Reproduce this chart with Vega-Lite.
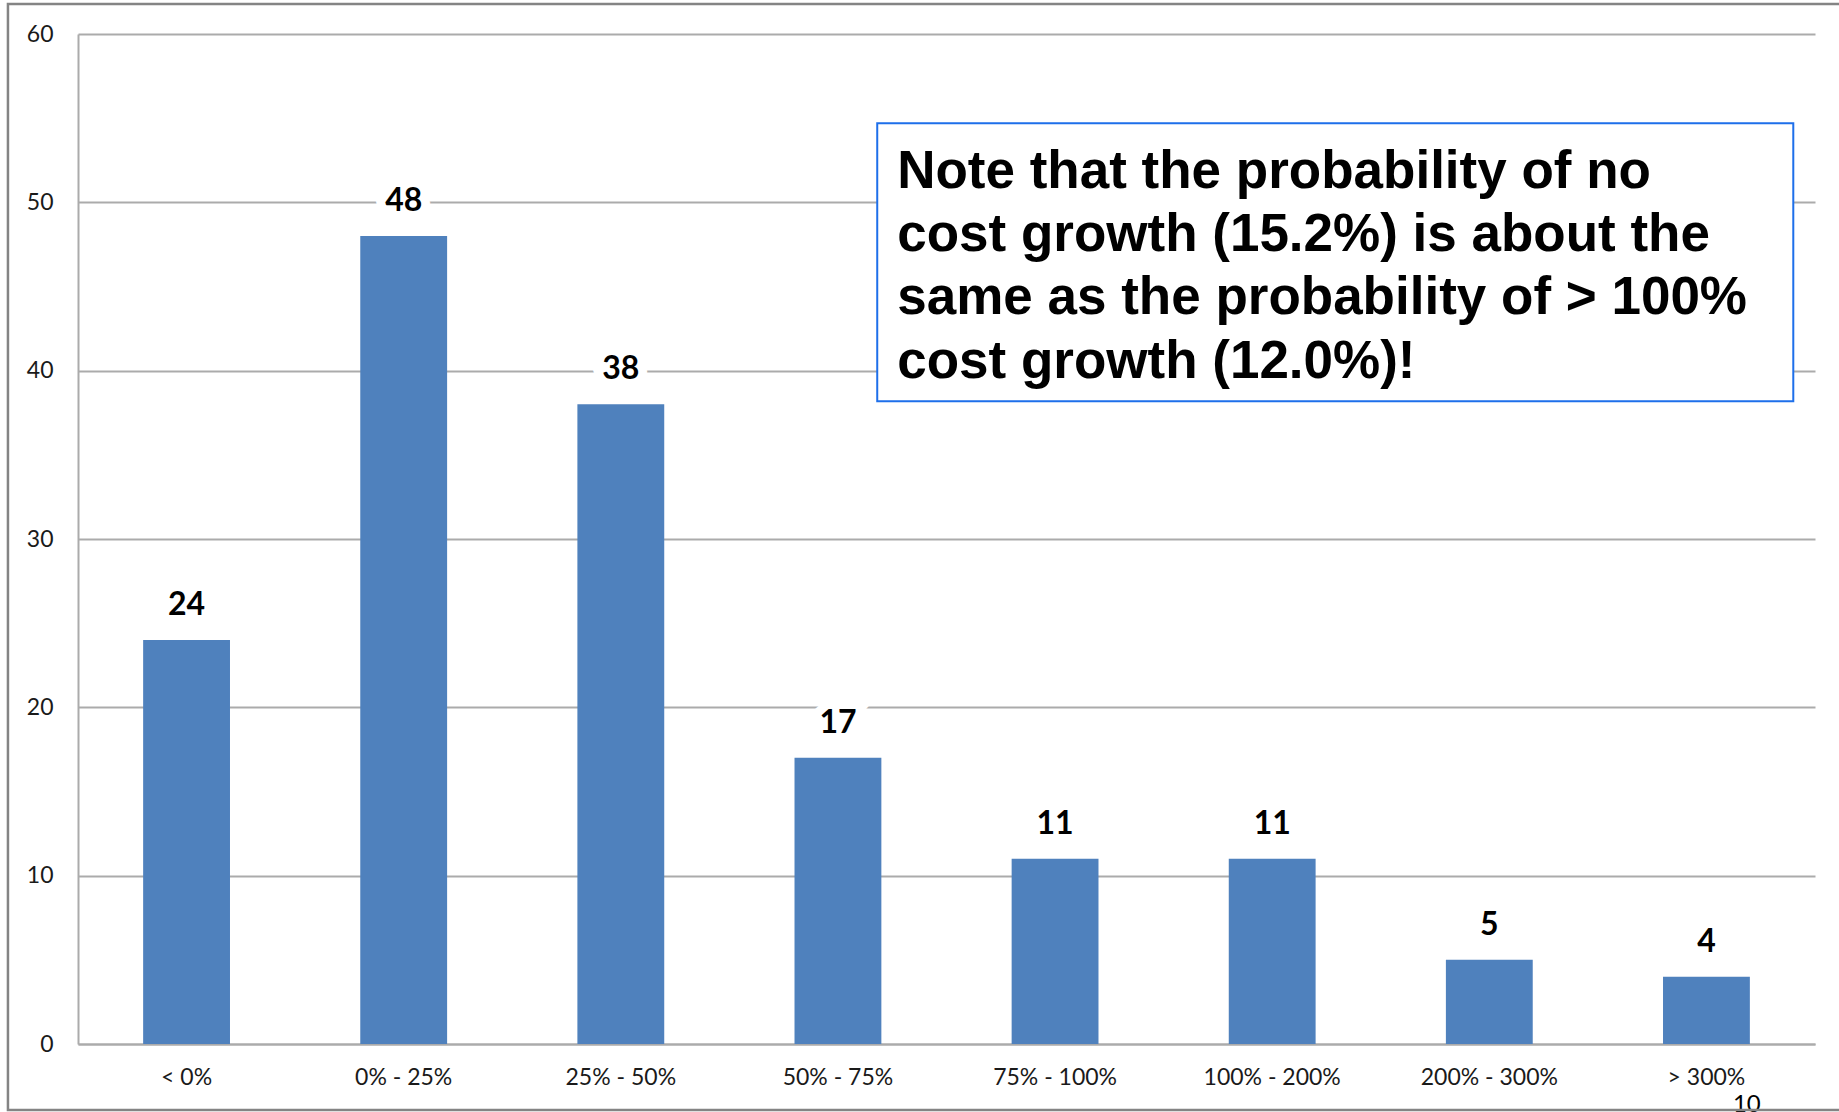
{
  "$schema": "https://vega.github.io/schema/vega-lite/v6.json",
  "width": 1737,
  "height": 1010,
  "autosize": {"type": "none"},
  "padding": {"left": 78, "top": 34, "right": 24, "bottom": 68},
  "background": "white",
  "datasets": {
    "bars": [
      {"range": "< 0%", "count": 24},
      {"range": "0% - 25%", "count": 48},
      {"range": "25% - 50%", "count": 38},
      {"range": "50% - 75%", "count": 17},
      {"range": "75% - 100%", "count": 11},
      {"range": "100% - 200%", "count": 11},
      {"range": "200% - 300%", "count": 5},
      {"range": "> 300%", "count": 4}
    ],
    "box": [{"x1": 3.681, "x2": 7.9, "y1": 38.19, "y2": 54.7}],
    "note": [
      {"line": "Note that the probability of no", "x": 3.773, "y": 50.87},
      {"line": "cost growth (15.2%) is about the", "x": 3.773, "y": 47.11},
      {"line": "same as the probability of > 100%", "x": 3.773, "y": 43.37},
      {"line": "cost growth (12.0%)!", "x": 3.773, "y": 39.59}
    ],
    "page": [{"label": "10", "x": 7.622, "y": -4.04}],
    "frame": [{"x1": -0.3226, "x2": 8.6, "y1": 61.78, "y2": -3.92}]
  },
  "layer": [
    {
      "data": {"name": "bars"},
      "encoding": {
        "x": {"field": "range", "type": "nominal", "sort": null,
              "scale": {"paddingInner": 0.6, "paddingOuter": 0.3}},
        "y": {"field": "count", "type": "quantitative",
              "scale": {"domain": [0, 60], "nice": false},
              "axis": {"values": [0, 10, 20, 30, 40, 50, 60]}}
      },
      "layer": [
        {"mark": {"type": "bar", "color": "#4F81BD"}},
        {"mark": {"type": "text", "font": "Lato", "fontWeight": "bold", "fontSize": 32,
                  "baseline": "alphabetic", "dy": -25, "color": "white",
                  "stroke": "white", "strokeWidth": 18},
         "encoding": {"text": {"field": "count", "type": "quantitative"}}},
        {"mark": {"type": "text", "font": "Lato", "fontWeight": "bold", "fontSize": 32,
                  "baseline": "alphabetic", "dy": -25, "color": "black"},
         "encoding": {"text": {"field": "count", "type": "quantitative"}}}
      ]
    },
    {
      "layer": [
        {
          "data": {"name": "box"},
          "mark": {"type": "rect", "fill": "white", "stroke": "#1E6FEA", "strokeWidth": 2},
          "encoding": {
            "x": {"field": "x1", "type": "quantitative", "scale": {"domain": [0, 8], "nice": false, "zero": false}, "axis": null},
            "x2": {"field": "x2"},
            "y": {"field": "y1", "type": "quantitative", "axis": {"values": [0, 10, 20, 30, 40, 50, 60]}},
            "y2": {"field": "y2"}
          }
        },
        {
          "data": {"name": "note"},
          "mark": {"type": "text", "font": "Liberation Sans", "fontWeight": "bold", "fontSize": 53,
                   "align": "left", "baseline": "alphabetic", "color": "black"},
          "encoding": {
            "x": {"field": "x", "type": "quantitative", "axis": null},
            "y": {"field": "y", "type": "quantitative", "axis": {"values": [0, 10, 20, 30, 40, 50, 60]}},
            "text": {"field": "line", "type": "nominal"}
          }
        },
        {
          "data": {"name": "page"},
          "mark": {"type": "text", "font": "Lato", "fontSize": 24,
                   "align": "left", "baseline": "alphabetic", "color": "black"},
          "encoding": {
            "x": {"field": "x", "type": "quantitative", "axis": null},
            "y": {"field": "y", "type": "quantitative", "axis": {"values": [0, 10, 20, 30, 40, 50, 60]}},
            "text": {"field": "label", "type": "nominal"}
          }
        },
        {
          "data": {"name": "frame"},
          "mark": {"type": "rect", "fill": null, "stroke": "#848484", "strokeWidth": 2.5},
          "encoding": {
            "x": {"field": "x1", "type": "quantitative", "axis": null},
            "x2": {"field": "x2"},
            "y": {"field": "y1", "type": "quantitative", "axis": {"values": [0, 10, 20, 30, 40, 50, 60]}},
            "y2": {"field": "y2"}
          }
        }
      ]
    }
  ],
  "resolve": {"scale": {"x": "independent"}, "axis": {"x": "independent"}},
  "config": {
    "view": {"stroke": null},
    "axisY": {
      "title": null, "grid": true, "gridColor": "#ABABAB", "gridWidth": 2,
      "domain": true, "domainColor": "#ABABAB", "domainWidth": 2,
      "ticks": false, "labelFont": "Lato", "labelFontSize": 23, "labelColor": "#1a1a1a",
      "labelPadding": 25
    },
    "axisX": {
      "title": null, "grid": false, "domain": true, "domainColor": "#ABABAB", "domainWidth": 2,
      "ticks": false, "labelAngle": 0, "labelFont": "Lato", "labelFontSize": 23,
      "labelColor": "#1a1a1a", "labelPadding": 22
    }
  }
}
